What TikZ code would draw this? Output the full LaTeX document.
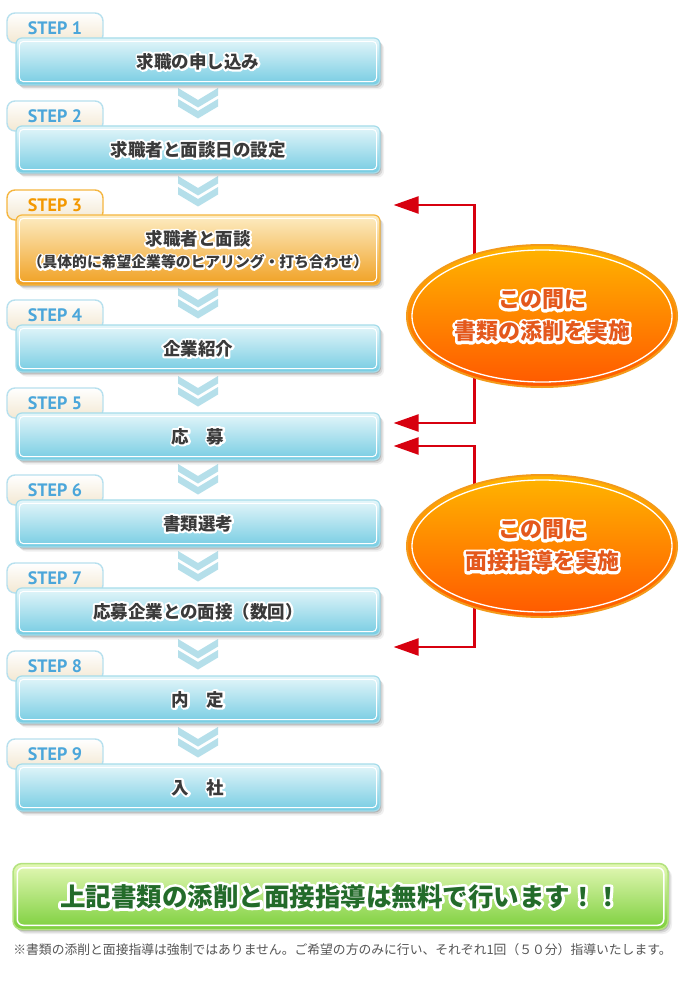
\documentclass[tikz,border=0pt]{standalone}
\usepackage{fontspec}
\usetikzlibrary{shapes.geometric,shadows,arrows.meta}
\newfontfamily\jp{Noto Sans CJK JP}
\newfontfamily\stepf{PT Sans}
\definecolor{boxtop}{HTML}{E4F6FA}
\definecolor{boxbot}{HTML}{76CCE2}
\definecolor{boxedge}{HTML}{A6DCEA}
\definecolor{ortop}{HTML}{FDEDC4}
\definecolor{orbot}{HTML}{F0A022}
\definecolor{oredge}{HTML}{F5B640}
\definecolor{tabbot}{HTML}{F3E8D2}
\definecolor{tabedge}{HTML}{B7E0EE}
\definecolor{stepblue}{HTML}{4BA6DA}
\definecolor{steporange}{HTML}{F39800}
\definecolor{txtdark}{HTML}{3A3A3A}
\definecolor{chev}{HTML}{B5DFEA}
\definecolor{redline}{HTML}{D7000F}
\definecolor{elltop}{HTML}{FFB500}
\definecolor{ellbot}{HTML}{FF5800}
\definecolor{elledge}{HTML}{F39A1A}
\definecolor{elltext}{HTML}{E4581C}
\definecolor{bantop}{HTML}{E4F8B6}
\definecolor{banbot}{HTML}{7CCF3C}
\definecolor{banedge}{HTML}{B3E27E}
\definecolor{bantext}{HTML}{236B2A}
\definecolor{notegray}{HTML}{555555}
\newcommand\halo[3]{{\leavevmode\rlap{\color{white}\special{pdf:literal direct 1 Tr 1 j #1 w}#3\special{pdf:literal direct 0 Tr}}\color{#2}#3}}
\tikzset{
 softshadow/.style={drop shadow={shadow xshift=1pt,shadow yshift=-1.5pt,opacity=.16,fill=black},drop shadow={shadow xshift=2.5pt,shadow yshift=-3pt,opacity=.10,fill=black},drop shadow={shadow xshift=4pt,shadow yshift=-4.5pt,opacity=.06,fill=black}},
 stepbox/.style={draw=boxedge,line width=1.2pt,rounded corners=6pt,top color=boxtop,bottom color=boxbot,minimum width=364pt,minimum height=47pt,inner sep=0pt,align=center,font=\jp\bfseries\fontsize{17.5}{21}\selectfont,softshadow},
 orangebox/.style={stepbox,draw=oredge,top color=ortop,bottom color=orbot,minimum height=70pt},
 tabbox/.style={draw=tabedge,line width=1.4pt,rounded corners=8pt,top color=white,bottom color=tabbot,minimum width=96pt,minimum height=30pt,inner sep=0pt,font=\stepf\bfseries\fontsize{18}{20}\selectfont,text=stepblue},
 orangetab/.style={tabbox,draw=oredge,text=steporange},
 innerline/.style={draw=white,line width=1pt,rounded corners=4pt},
 chevron/.style={fill=chev},
 redarrow/.style={draw=redline,line width=2.5pt,{Triangle[length=25pt,width=17pt]}-{Triangle[length=25pt,width=17pt]}},
 ellipsebox/.style={ellipse,draw=elledge,line width=2pt,top color=elltop,bottom color=ellbot,minimum width=270pt,minimum height=142pt,inner sep=0pt,align=center,font=\jp\bfseries\fontsize{22}{32}\selectfont},
 banner/.style={draw=banedge,line width=1.5pt,rounded corners=9pt,top color=bantop,bottom color=banbot,minimum width=655pt,minimum height=66pt,inner sep=0pt,font=\jp\bfseries\fontsize{25.5}{30}\selectfont,softshadow},
 note/.style={font=\jp\fontsize{12.8}{15}\selectfont,text=notegray,inner sep=0pt}
}
\begin{document}
\begin{tikzpicture}[x=1pt,y=-1pt]
\fill[white] (0,0) rectangle (680,1000);
\useasboundingbox (0,0) rectangle (680,1000);
% chevrons
\foreach \a in {88,176,288,376,464,551,639,727}{
  \fill[chevron] (178,\a) -- (198,\a+12) -- (218,\a) -- (218,\a+7.5) -- (198,\a+19.5) -- (178,\a+7.5) -- cycle;
  \fill[chevron] (178,\a+11) -- (198,\a+23) -- (218,\a+11) -- (218,\a+18.5) -- (198,\a+30.5) -- (178,\a+18.5) -- cycle;
}
% tabs
\node[tabbox] (t1) at (55,28) {STEP 1};
\node[tabbox] (t2) at (55,116) {STEP 2};
\node[orangetab] (t3) at (55,205) {STEP 3};
\node[tabbox] (t4) at (55,315) {STEP 4};
\node[tabbox] (t5) at (55,403) {STEP 5};
\node[tabbox] (t6) at (55,490) {STEP 6};
\node[tabbox] (t7) at (55,578) {STEP 7};
\node[tabbox] (t8) at (55,666) {STEP 8};
\node[tabbox] (t9) at (55,754) {STEP 9};
% boxes
\node[stepbox] (s1) at (198,61.5) {\halo{4}{txtdark}{求職の申し込み}};
\node[stepbox] (s2) at (198,149.5) {\halo{4}{txtdark}{求職者と面談日の設定}};
\node[orangebox] (s3) at (198,250) {\halo{4}{txtdark}{求職者と面談}\\[1pt]{\fontsize{14.8}{16}\selectfont\halo{3.5}{txtdark}{（具体的に希望企業等のヒアリング・打ち合わせ）}}};
\node[stepbox] (s4) at (198,348.5) {\halo{4}{txtdark}{企業紹介}};
\node[stepbox] (s5) at (198,436.5) {\halo{4}{txtdark}{応　募}};
\node[stepbox] (s6) at (198,523.5) {\halo{4}{txtdark}{書類選考}};
\node[stepbox] (s7) at (198,611.5) {\halo{4}{txtdark}{応募企業との面接（数回）}};
\node[stepbox] (s8) at (198,699.5) {\halo{4}{txtdark}{内　定}};
\node[stepbox] (s9) at (198,787.5) {\halo{4}{txtdark}{入　社}};
\foreach \n in {s1,s2,s3,s4,s5,s6,s7,s8,s9}
  \draw[innerline] ([shift={(4,4)}]\n.north west) rectangle ([shift={(-4,-4)}]\n.south east);
% red arrows
\coordinate (a1) at ([xshift=13pt]s3.east |- t3.center);
\coordinate (a2) at ([xshift=13pt,yshift=13.5pt]s5.east);
\coordinate (a3) at ([xshift=13pt,yshift=-9.5pt]s5.east);
\coordinate (a4) at ([xshift=13pt,yshift=-35.5pt]s7.east);
\draw[redarrow] (a1) -- ++(81,0) |- (a2);
\draw[redarrow] (a3) -- ++(81,0) |- (a4);
% ellipses
\node[ellipsebox] (e1) at (542,316) {\halo{5}{elltext}{この間に}\\\halo{5}{elltext}{書類の添削を実施}};
\draw[white,line width=1.3pt] (e1.center) ellipse [x radius=130, y radius=66];
\node[ellipsebox] (e2) at (542,546) {\halo{5}{elltext}{この間に}\\\halo{5}{elltext}{面接指導を実施}};
\draw[white,line width=1.3pt] (e2.center) ellipse [x radius=130, y radius=66];
% banner
\node[banner] (bn) at (340.5,896.5) {\halo{5.5}{bantext}{上記書類の添削と面接指導は無料で行います！！}};
\draw[innerline,line width=1.5pt,rounded corners=6pt] ([shift={(5,5)}]bn.north west) rectangle ([shift={(-5,-5)}]bn.south east);
\node[note] (fn) at (342.5,950) {※書類の添削と面接指導は強制ではありません。ご希望の方のみに行い、それぞれ1回（５０分）指導いたします。};
\end{tikzpicture}
\end{document}
